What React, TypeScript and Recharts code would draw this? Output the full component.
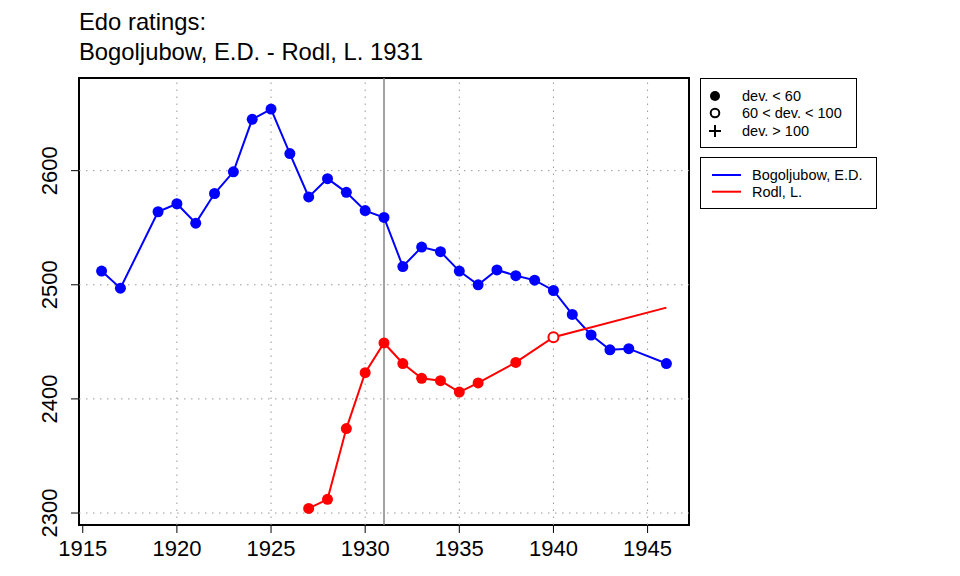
import React from "react";
import {
  LineChart,
  Line,
  XAxis,
  YAxis,
  ReferenceLine,
  ReferenceArea,
} from "recharts";

// Edo ratings, one value per year (null = no rating that year)
const years = [
  1916, 1917, 1918, 1919, 1920, 1921, 1922, 1923, 1924, 1925, 1926, 1927,
  1928, 1929, 1930, 1931, 1932, 1933, 1934, 1935, 1936, 1937, 1938, 1939,
  1940, 1941, 1942, 1943, 1944, 1945, 1946,
];

const bogoljubow = [
  2512, 2497, null, 2564, 2571, 2554, 2580, 2599, 2645, 2654, 2615, 2577,
  2593, 2581, 2565, 2559, 2516, 2533, 2529, 2512, 2500, 2513, 2508, 2504,
  2495, 2474, 2456, 2443, 2444, null, 2431,
];

const rodl = [
  null, null, null, null, null, null, null, null, null, null, null, 2304,
  2312, 2374, 2423, 2449, 2431, 2418, 2416, 2406, 2414, null, 2432, null,
  2454, null, null, null, null, null, 2480,
];

// deviation class of each Rodl rating: "lt60" filled, "lt100" open, "none" no marker
const rodlDev = [
  null, null, null, null, null, null, null, null, null, null, null, "lt60",
  "lt60", "lt60", "lt60", "lt60", "lt60", "lt60", "lt60", "lt60", "lt60",
  null, "lt60", null, "lt100", null, null, null, null, null, "none",
];

const xTicks = [1915, 1920, 1925, 1930, 1935, 1940, 1945];
const yTicks = [2300, 2400, 2500, 2600];
const gridYears = [1920, 1925, 1930, 1935, 1940, 1945];
const gridRatings = [2300, 2400, 2500, 2600];
const gameYear = 1931;

const xDomain = [1914.8, 1947.2];
const yDomain = [2289.5, 2681.2];

const data = years.map((year, i) => ({
  year,
  bogo: bogoljubow[i],
  rodl: rodl[i],
  dev: rodlDev[i],
}));

const FONT = '"Liberation Sans", Arial, Helvetica, sans-serif';
const BLUE = "#0000FF";
const RED = "#FF0000";

function BlueDot(props: any) {
  const { cx, cy, index } = props;
  if (cx == null || cy == null || props.payload?.bogo == null) return <g key={`b${index}`} />;
  return <circle key={`b${index}`} cx={cx} cy={cy} r={5.5} fill={BLUE} stroke="none" />;
}

function RedDot(props: any) {
  const { cx, cy, index, payload } = props;
  if (cx == null || cy == null || payload?.rodl == null || payload.dev === "none")
    return <g key={`r${index}`} />;
  if (payload.dev === "lt100")
    return (
      <circle key={`r${index}`} cx={cx} cy={cy} r={5} fill="#fff" stroke={RED} strokeWidth={2} />
    );
  return <circle key={`r${index}`} cx={cx} cy={cy} r={5.5} fill={RED} stroke="none" />;
}

function XTick(props: any) {
  const { x, y, payload } = props;
  return (
    <text x={x} y={y} dy={21} textAnchor="middle" fontSize={22} fontFamily={FONT} fill="#000">
      {payload.value}
    </text>
  );
}

function YTick(props: any) {
  const { x, y, payload } = props;
  return (
    <text
      x={x}
      y={y}
      transform={`rotate(-90, ${x}, ${y})`}
      textAnchor="middle"
      fontSize={22}
      fontFamily={FONT}
      fill="#000"
    >
      {payload.value}
    </text>
  );
}

export default function App() {
  return (
    <div style={{ position: "absolute", left: 0, top: 0, width: 960, height: 576, background: "#fff" }}>
      <LineChart
        width={960}
        height={576}
        data={data}
        margin={{ top: 78, right: 271, bottom: 0, left: 0 }}
      >
        <XAxis
          type="number"
          dataKey="year"
          domain={xDomain}
          ticks={xTicks}
          allowDataOverflow
          axisLine={false}
          tickSize={8}
          tickMargin={2}
          tickLine={{ stroke: "#000" }}
          height={51}
          tick={<XTick />}
        />
        <YAxis
          type="number"
          domain={yDomain}
          ticks={yTicks}
          allowDataOverflow
          axisLine={false}
          tickSize={8}
          tickMargin={14}
          tickLine={{ stroke: "#000" }}
          width={79}
          tick={<YTick />}
        />
        {gridYears.map((g) => (
          <ReferenceLine key={`gx${g}`} x={g} stroke="#999" strokeDasharray="1.5 5.5" />
        ))}
        {gridRatings.map((g) => (
          <ReferenceLine key={`gy${g}`} y={g} stroke="#999" strokeDasharray="1.5 5.5" />
        ))}
        <ReferenceArea
          x1={xDomain[0]}
          x2={xDomain[1]}
          y1={yDomain[0]}
          y2={yDomain[1]}
          fill="none"
          fillOpacity={0}
          stroke="#000"
          strokeWidth={2}
          ifOverflow="visible"
        />
        <Line
          dataKey="bogo"
          stroke={BLUE}
          strokeWidth={2}
          connectNulls
          dot={<BlueDot />}
          activeDot={false}
          isAnimationActive={false}
        />
        <Line
          dataKey="rodl"
          stroke={RED}
          strokeWidth={2}
          connectNulls
          dot={<RedDot />}
          activeDot={false}
          isAnimationActive={false}
        />
        <ReferenceLine x={gameYear} stroke="#808080" strokeOpacity={0.8} strokeWidth={1.8} />
      </LineChart>

      <svg
        width={960}
        height={576}
        style={{ position: "absolute", left: 0, top: 0, pointerEvents: "none" }}
        fontFamily={FONT}
      >
        <text x={79} y={30} fontSize={23.8} fill="#000">Edo ratings:</text>
        <text x={79} y={60} fontSize={23.8} fill="#000">Bogoljubow, E.D. - Rodl, L. 1931</text>

        <rect x={700.5} y={78.5} width={156} height={69} fill="#fff" stroke="#000" strokeWidth={1} />
        <circle cx={715} cy={96} r={5} fill="#000" />
        <circle cx={715} cy={113} r={4.3} fill="none" stroke="#000" strokeWidth={2} />
        <line x1={709} x2={721} y1={131} y2={131} stroke="#000" strokeWidth={2} />
        <line x1={715} x2={715} y1={125} y2={137} stroke="#000" strokeWidth={2} />
        <text x={742} y={101} fontSize={14.5} fill="#000">dev. &lt; 60</text>
        <text x={742} y={118.3} fontSize={14.5} fill="#000">60 &lt; dev. &lt; 100</text>
        <text x={742} y={135.6} fontSize={14.5} fill="#000">dev. &gt; 100</text>

        <rect x={700.5} y={157.5} width={176} height={51} fill="#fff" stroke="#000" strokeWidth={1} />
        <line x1={712} x2={741} y1={175} y2={175} stroke={BLUE} strokeWidth={2} />
        <line x1={712} x2={741} y1={191.7} y2={191.7} stroke={RED} strokeWidth={2} />
        <text x={752} y={180} fontSize={14.5} fill="#000">Bogoljubow, E.D.</text>
        <text x={752} y={197.3} fontSize={14.5} fill="#000">Rodl, L.</text>
      </svg>
    </div>
  );
}
